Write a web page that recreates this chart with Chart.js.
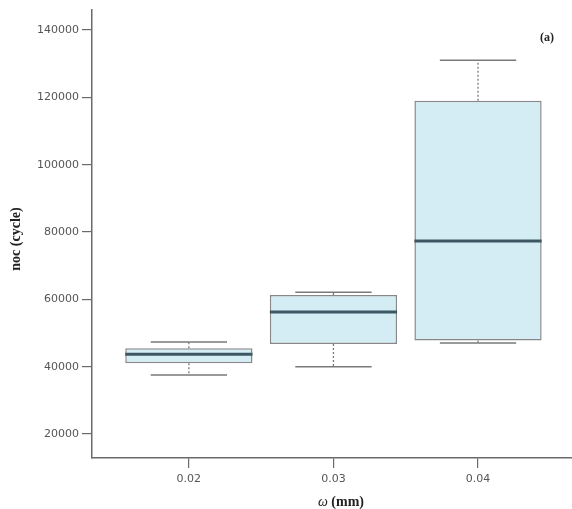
<!DOCTYPE html>
<html>
<head>
<meta charset="utf-8">
<script src="https://cdn.jsdelivr.net/npm/chart.js@4/dist/chart.umd.min.js"></script>
<style>
  html, body { margin: 0; padding: 0; background: #ffffff; }
  #wrap { width: 572px; height: 509px; position: relative; }
</style>
</head>
<body>
<div id="wrap"><canvas id="c" width="572" height="509"></canvas></div>
<script>
// Groups on the horizontal axis
const categories = ['0.02', '0.03', '0.04'];
// Five-number summaries of noc (cycle) per group
const whiskerLow  = [37500, 40000, 47000];
const quartile1   = [41000, 46700, 47800];
const medians     = [43700, 56200, 77300];
const quartile3   = [45500, 61300, 119000];
const whiskerHigh = [47300, 62100, 131000];
// Value axis ticks
const yTicks = [20000, 40000, 60000, 80000, 100000, 120000, 140000];

const AXIS = '#6a6a6a';
const TEXT = '#555555';

const boxData = categories.map((c, i) => ({ x: i, y: [quartile1[i], quartile3[i]] }));

const boxExtras = {
  id: 'boxExtras',
  afterDatasetsDraw(chart) {
    const ctx = chart.ctx;
    const y = chart.scales.y;
    const meta = chart.getDatasetMeta(0);
    ctx.save();
    meta.data.forEach((bar, i) => {
      const cx = bar.x;
      const half = bar.width / 2;
      const capHalf = half * 0.6;
      const pLow = y.getPixelForValue(whiskerLow[i]);
      const pQ1 = y.getPixelForValue(quartile1[i]);
      const pQ3 = y.getPixelForValue(quartile3[i]);
      const pHigh = y.getPixelForValue(whiskerHigh[i]);
      const pMed = y.getPixelForValue(medians[i]);
      // dotted whisker stems
      ctx.strokeStyle = '#7a7a7a';
      ctx.lineWidth = 1.3;
      ctx.setLineDash([2, 2]);
      ctx.beginPath();
      ctx.moveTo(cx, pQ3); ctx.lineTo(cx, pHigh);
      ctx.moveTo(cx, pQ1); ctx.lineTo(cx, pLow);
      ctx.stroke();
      // whisker caps
      ctx.setLineDash([]);
      ctx.lineWidth = 1.5;
      ctx.beginPath();
      ctx.moveTo(cx - capHalf, pHigh); ctx.lineTo(cx + capHalf, pHigh);
      ctx.moveTo(cx - capHalf, pLow); ctx.lineTo(cx + capHalf, pLow);
      ctx.stroke();
      // median
      ctx.strokeStyle = '#3d5762';
      ctx.lineWidth = 3;
      ctx.beginPath();
      ctx.moveTo(cx - half, pMed); ctx.lineTo(cx + half, pMed);
      ctx.stroke();
    });
    ctx.restore();
  }
};

const titles = {
  id: 'titles',
  afterDraw(chart) {
    const ctx = chart.ctx;
    ctx.save();
    ctx.fillStyle = '#222222';
    // panel tag
    ctx.font = 'bold 12px "Liberation Serif", serif';
    ctx.textAlign = 'center';
    ctx.textBaseline = 'middle';
    ctx.fillText('(a)', 547, 38);
    // y-axis title
    ctx.save();
    ctx.translate(16, 239);
    ctx.rotate(-Math.PI / 2);
    ctx.font = 'bold 14px "Liberation Serif", serif';
    ctx.fillText('noc (cycle)', 0, 0);
    ctx.restore();
    // x-axis title: italic symbol + bold unit
    ctx.textAlign = 'left';
    ctx.textBaseline = 'alphabetic';
    const sym = '\u03c9';
    const unit = ' (mm)';
    ctx.font = 'italic 14px "Liberation Serif", serif';
    const w1 = ctx.measureText(sym).width;
    ctx.font = 'bold 14px "Liberation Serif", serif';
    const w2 = ctx.measureText(unit).width;
    let x0 = 341 - (w1 + w2) / 2;
    ctx.font = 'italic 14px "Liberation Serif", serif';
    ctx.fillText(sym, x0, 506);
    ctx.font = 'bold 14px "Liberation Serif", serif';
    ctx.fillText(unit, x0 + w1, 506);
    ctx.restore();
  }
};

new Chart(document.getElementById('c'), {
  type: 'bar',
  data: {
    datasets: [{
      data: boxData,
      backgroundColor: '#d4edf5',
      borderColor: '#888888',
      borderWidth: 1.5,
      borderSkipped: false,
      barPercentage: 0.88,
      categoryPercentage: 1
    }]
  },
  options: {
    responsive: false,
    animation: false,
    devicePixelRatio: 1,
    layout: { padding: { top: 10, right: 0, left: 0, bottom: 0 } },
    plugins: { legend: { display: false }, tooltip: { enabled: false } },
    scales: {
      x: {
        type: 'linear',
        offset: false,
        min: -0.67,
        max: 2.65,
        afterBuildTicks: (s) => { s.ticks = categories.map((c, i) => ({ value: i })); },
        afterFit: (s) => { s.height = 51; },
        ticks: {
          callback: (v) => categories[v],
          color: TEXT,
          font: { family: '"DejaVu Sans", sans-serif', size: 11 },
          padding: 5,
          maxRotation: 0
        },
        grid: { offset: false, drawOnChartArea: false, drawTicks: true, tickLength: 10, color: AXIS, lineWidth: 1.2 },
        border: { display: true, color: AXIS, width: 1.5 }
      },
      y: {
        type: 'linear',
        min: 12870,
        max: 145940,
        afterBuildTicks: (s) => { s.ticks = yTicks.map(v => ({ value: v })); },
        afterFit: (s) => { s.width = 92; },
        ticks: {
          callback: (v) => String(v),
          color: TEXT,
          font: { family: '"DejaVu Sans", sans-serif', size: 11 },
          padding: 3
        },
        grid: { drawOnChartArea: false, drawTicks: true, tickLength: 10, color: AXIS, lineWidth: 1.2 },
        border: { display: true, color: AXIS, width: 1.5 }
      }
    }
  },
  plugins: [boxExtras, titles]
});
</script>
</body>
</html>
